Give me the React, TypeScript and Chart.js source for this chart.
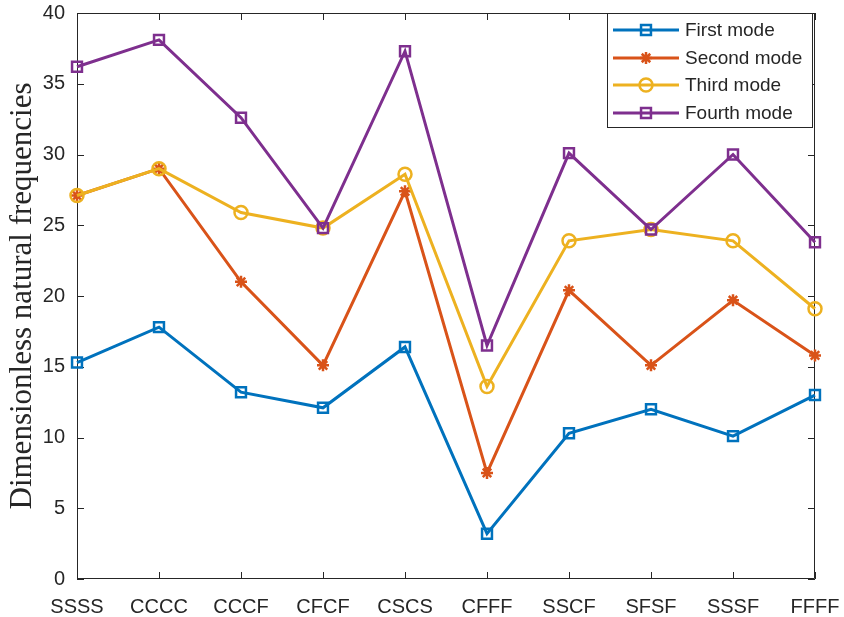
import React, { useEffect, useRef } from "react";
import { Chart, registerables } from "chart.js";

Chart.register(...registerables);

const categories = ["SSSS", "CCCC", "CCCF", "CFCF", "CSCS", "CFFF", "SSCF", "SFSF", "SSSF", "FFFF"];
const firstMode = [15.3, 17.8, 13.2, 12.1, 16.4, 3.2, 10.3, 12.0, 10.1, 13.0];
const secondMode = [27.1, 29.0, 21.0, 15.1, 27.4, 7.5, 20.4, 15.1, 19.7, 15.8];
const thirdMode = [27.1, 29.0, 25.9, 24.8, 28.6, 13.6, 23.9, 24.7, 23.9, 19.1];
const fourthMode = [36.2, 38.1, 32.6, 24.8, 37.3, 16.5, 30.1, 24.7, 30.0, 23.8];
const seriesNames = ["First mode", "Second mode", "Third mode", "Fourth mode"];
const yTicks = [0, 5, 10, 15, 20, 25, 30, 35, 40];
const yTitle = "Dimensionless natural frequencies";

const colors = ["#0072BD", "#D95319", "#EDB120", "#7E2F8E"];
const styles = ["rect", "star", "circle", "rect"];
const radii = [7, 6, 6.5, 7];
const AX = "#262626";

function drawMarker(ctx: CanvasRenderingContext2D, style: string, r: number, x: number, y: number) {
  ctx.beginPath();
  if (style === "rect") {
    const s = r / Math.SQRT2;
    ctx.rect(x - s, y - s, 2 * s, 2 * s);
  } else if (style === "circle") {
    ctx.arc(x, y, r, 0, Math.PI * 2);
  } else if (style === "star") {
    for (let k = 0; k < 4; k++) {
      const a = (k * Math.PI) / 4;
      ctx.moveTo(x - Math.sin(a) * r, y - Math.cos(a) * r);
      ctx.lineTo(x + Math.sin(a) * r, y + Math.cos(a) * r);
    }
  }
  ctx.stroke();
}

const boxPlugin = {
  id: "matlabBox",
  beforeDatasetsDraw(chart: any) {
    const { ctx, chartArea } = chart;
    const { left, right, top, bottom } = chartArea;
    ctx.save();
    ctx.strokeStyle = AX;
    ctx.lineWidth = 1;
    ctx.beginPath();
    ctx.rect(left + 0.5, top + 0.5, right - left - 1, bottom - top - 1);
    ctx.stroke();
    const tl = 7;
    const ys = chart.scales.y;
    ys.ticks.forEach((t: any) => {
      const y = Math.round(ys.getPixelForValue(t.value)) + 0.5;
      ctx.beginPath();
      ctx.moveTo(left, y);
      ctx.lineTo(left + tl, y);
      ctx.moveTo(right, y);
      ctx.lineTo(right - tl, y);
      ctx.stroke();
    });
    const xs = chart.scales.x;
    xs.ticks.forEach((_t: any, i: number) => {
      const x = Math.round(xs.getPixelForTick(i)) + 0.5;
      ctx.beginPath();
      ctx.moveTo(x, bottom);
      ctx.lineTo(x, bottom - tl);
      ctx.moveTo(x, top);
      ctx.lineTo(x, top + tl);
      ctx.stroke();
    });
    ctx.restore();
  },
};

const legendPlugin = {
  id: "matlabLegend",
  afterDraw(chart: any) {
    const { ctx } = chart;
    const x0 = 607, y0 = 13, w = 206, h = 115;
    ctx.save();
    ctx.fillStyle = "#ffffff";
    ctx.fillRect(x0, y0, w, h);
    ctx.strokeStyle = AX;
    ctx.lineWidth = 1;
    ctx.strokeRect(x0 + 0.5, y0 + 0.5, w - 1, h - 1);
    const rowYs = [30, 58, 85, 113];
    ctx.font = "19px 'Liberation Sans', Arial, sans-serif";
    ctx.textBaseline = "middle";
    seriesNames.forEach((name, i) => {
      const y = rowYs[i];
      ctx.strokeStyle = colors[i];
      ctx.lineWidth = 3;
      ctx.beginPath();
      ctx.moveTo(613, y);
      ctx.lineTo(679, y);
      ctx.stroke();
      ctx.lineWidth = 2.5;
      drawMarker(ctx, styles[i], radii[i], 646, y);
      ctx.fillStyle = AX;
      ctx.fillText(name, 685, y + 1);
    });
    ctx.restore();
  },
};

export default function App() {
  const ref = useRef<HTMLCanvasElement | null>(null);
  useEffect(() => {
    document.body.style.margin = "0";
    const allData = [firstMode, secondMode, thirdMode, fourthMode];
    const chart = new Chart(ref.current as HTMLCanvasElement, {
      type: "line",
      data: {
        labels: categories,
        datasets: allData.map((d, i) => ({
          label: seriesNames[i],
          data: d,
          borderColor: colors[i],
          backgroundColor: "rgba(0,0,0,0)",
          borderWidth: 3,
          pointStyle: styles[i] as any,
          pointRadius: radii[i],
          pointBorderWidth: 2.5,
          pointBorderColor: colors[i],
          pointBackgroundColor: "rgba(0,0,0,0)",
          tension: 0,
          fill: false,
          order: 3 - i,
        })),
      },
      options: {
        responsive: false,
        animation: false,
        layout: { padding: { top: 13, right: 29, left: 0, bottom: 0 } },
        plugins: { legend: { display: false }, tooltip: { enabled: false } },
        scales: {
          x: {
            type: "category",
            offset: false,
            grid: { display: false },
            border: { display: false },
            ticks: {
              color: AX,
              font: { family: "'Liberation Sans', Arial, sans-serif", size: 20 },
              maxRotation: 0,
              autoSkip: false,
              padding: 8,
            },
            afterFit(scale: any) {
              scale.height = 38;
              scale.paddingLeft = 0;
              scale.paddingRight = 0;
            },
          },
          y: {
            min: 0,
            max: 40,
            afterBuildTicks(scale: any) {
              scale.ticks = yTicks.map((v) => ({ value: v }));
            },
            grid: { display: false },
            border: { display: false },
            ticks: {
              color: AX,
              font: { family: "'Liberation Sans', Arial, sans-serif", size: 20 },
              padding: 4,
            },
            title: {
              display: true,
              text: yTitle,
              color: AX,
              font: { family: "'Liberation Serif', 'Times New Roman', serif", size: 31 },
              padding: { top: 4, bottom: 0 },
            },
            afterFit(scale: any) {
              scale.width = 77;
              scale.paddingTop = 0;
              scale.paddingBottom = 0;
            },
          },
        },
      },
      plugins: [boxPlugin, legendPlugin],
    });
    return () => chart.destroy();
  }, []);
  return (
    <div style={{ width: 844, height: 617, background: "#fff" }}>
      <canvas ref={ref} width={844} height={617} style={{ display: "block" }} />
    </div>
  );
}
